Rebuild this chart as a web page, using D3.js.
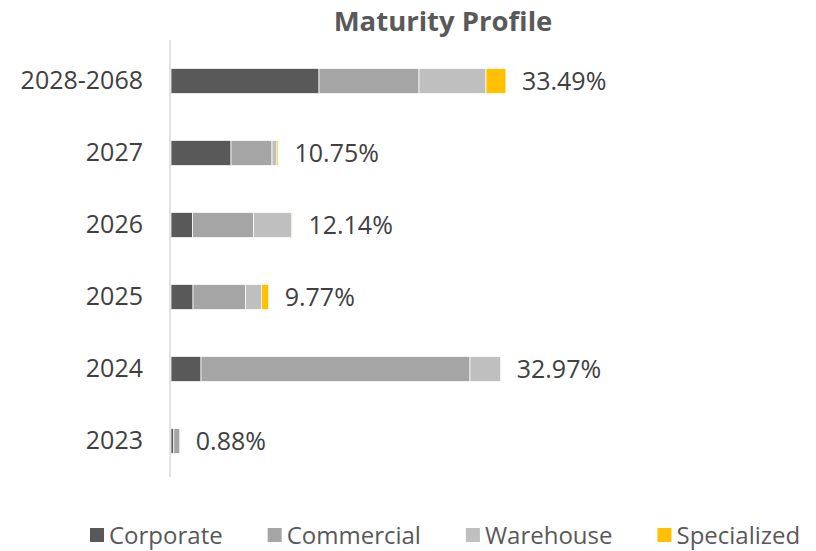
<!DOCTYPE html>
<html>
<head>
<meta charset="utf-8">
<script src="https://cdn.jsdelivr.net/npm/d3@7"></script>
<style>
  body { margin: 0; background: #fff; }
  text { font-family: "Open Sans", sans-serif; }
</style>
</head>
<body>
<div id="chart"></div>
<script>
var years = ["2028-2068", "2027", "2026", "2025", "2024", "2023"];
var seriesNames = ["Corporate", "Commercial", "Warehouse", "Specialized"];
var corporate   = [14.8, 6.0, 2.15, 2.2, 3.0, 0.28];
var commercial  = [10.0, 4.1, 6.1, 5.25, 26.9, 0.6];
var warehouse   = [6.7, 0.5, 3.84, 1.6, 3.07, 0];
var specialized = [1.99, 0.15, 0.05, 0.72, 0, 0];
var totalLabels = ["33.49%", "10.75%", "12.14%", "9.77%", "32.97%", "0.88%"];
var colors = ["#595959", "#A5A5A5", "#BFBFBF", "#FFC000"];

var width = 816, height = 551;
var margin = { top: 45, right: 20, bottom: 74, left: 171 };

var rows = years.map(function (y, i) {
    return { year: y, Corporate: corporate[i], Commercial: commercial[i],
             Warehouse: warehouse[i], Specialized: specialized[i], label: totalLabels[i] };
});

var stack = d3.stack().keys(seriesNames)(rows);

var x = d3.scaleLinear().domain([0, 62.5]).range([margin.left, width - margin.right]);
var y = d3.scaleBand().domain(years).range([margin.top, height - margin.bottom]).paddingInner(0.65).paddingOuter(0.325);

var svg = d3.select("#chart").append("svg")
    .attr("width", width)
    .attr("height", height);

svg.append("text")
    .attr("x", 443)
    .attr("y", 31)
    .attr("text-anchor", "middle")
    .style("font-size", "27.5px")
    .style("font-weight", "bold")
    .style("fill", "#595959")
    .text("Maturity Profile");

// bars
svg.append("g")
    .selectAll("g")
    .data(stack)
    .join("g")
    .attr("fill", function (d, i) { return colors[i]; })
    .selectAll("rect")
    .data(function (d) { return d; })
    .join("rect")
    .attr("x", function (d) { return x(d[0]); })
    .attr("y", function (d) { return y(d.data.year); })
    .attr("width", function (d) { return Math.max(0, x(d[1]) - x(d[0])); })
    .attr("height", y.bandwidth())
    .attr("stroke", "#fff")
    .attr("stroke-width", 0.75);

// axis
var yAxis = svg.append("g")
    .attr("transform", "translate(" + (margin.left - 1) + ",0)")
    .call(d3.axisLeft(y).tickSize(0).tickPadding(27));
yAxis.select(".domain").attr("stroke", "#D9D9D9").attr("stroke-width", 1.5)
    .attr("d", "M0," + 40 + "V" + (height - margin.bottom));
yAxis.selectAll("text")
    .style("font-size", "25px")
    .style("font-family", "'Open Sans', sans-serif")
    .style("fill", "#404040");

// value labels
svg.append("g")
    .selectAll("text")
    .data(rows)
    .join("text")
    .attr("x", function (d) { return x(d.Corporate + d.Commercial + d.Warehouse + d.Specialized) + 16; })
    .attr("y", function (d) { return y(d.year) + y.bandwidth() / 2; })
    .attr("dy", "0.36em")
    .style("font-size", "25px")
    .style("fill", "#404040")
    .text(function (d) { return d.label; });

// legend
var legend = svg.append("g").attr("transform", "translate(0,535)");
var lx = 90;
seriesNames.forEach(function (name, i) {
    var g = legend.append("g").attr("transform", "translate(" + lx + ",0)");
    g.append("rect").attr("x", 0).attr("y", -7).attr("width", 14).attr("height", 14).attr("fill", colors[i]);
    var t = g.append("text").attr("x", 19).attr("dy", "0.36em")
        .style("font-size", "24px").style("fill", "#595959").text(name);
    lx += 19 + t.node().getComputedTextLength() + 45;
});
</script>
</body>
</html>
